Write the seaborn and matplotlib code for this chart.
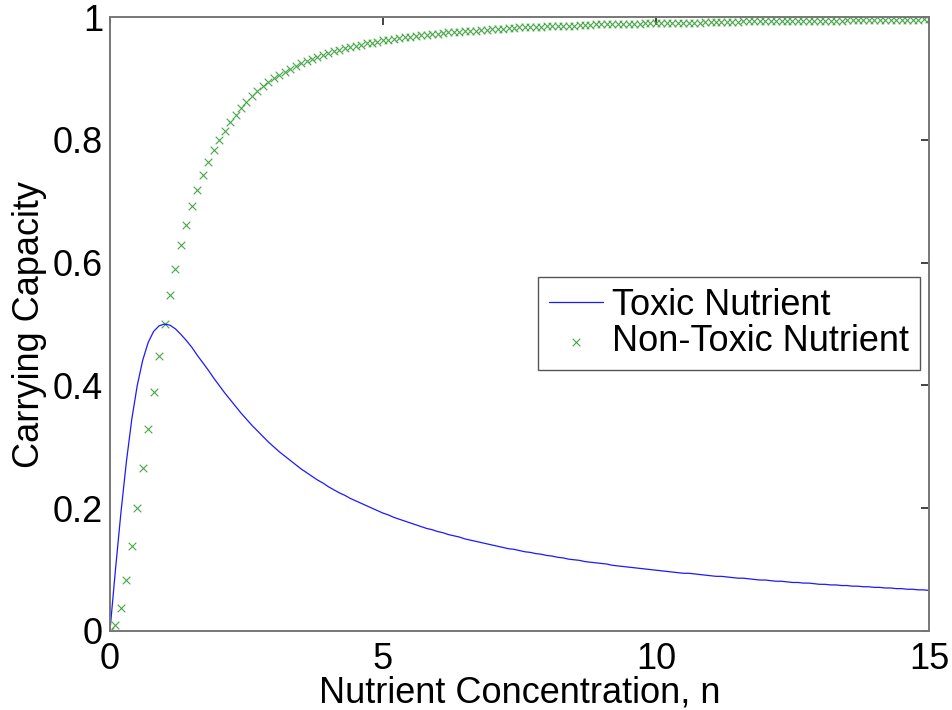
import matplotlib
matplotlib.use("Agg")
import matplotlib.pyplot as plt
import seaborn as sns
import pandas as pd

nutrient_conc = [
    0.0, 0.1, 0.2, 0.3, 0.4, 0.5, 0.6, 0.7, 0.8, 0.9,
    1.0, 1.1, 1.2, 1.3, 1.4, 1.5, 1.6, 1.7, 1.8, 1.9,
    2.0, 2.1, 2.2, 2.3, 2.4, 2.5, 2.6, 2.7, 2.8, 2.9,
    3.0, 3.1, 3.2, 3.3, 3.4, 3.5, 3.6, 3.7, 3.8, 3.9,
    4.0, 4.1, 4.2, 4.3, 4.4, 4.5, 4.6, 4.7, 4.8, 4.9,
    5.0, 5.1, 5.2, 5.3, 5.4, 5.5, 5.6, 5.7, 5.8, 5.9,
    6.0, 6.1, 6.2, 6.3, 6.4, 6.5, 6.6, 6.7, 6.8, 6.9,
    7.0, 7.1, 7.2, 7.3, 7.4, 7.5, 7.6, 7.7, 7.8, 7.9,
    8.0, 8.1, 8.2, 8.3, 8.4, 8.5, 8.6, 8.7, 8.8, 8.9,
    9.0, 9.1, 9.2, 9.3, 9.4, 9.5, 9.6, 9.7, 9.8, 9.9,
    10.0, 10.1, 10.2, 10.3, 10.4, 10.5, 10.6, 10.7, 10.8, 10.9,
    11.0, 11.1, 11.2, 11.3, 11.4, 11.5, 11.6, 11.7, 11.8, 11.9,
    12.0, 12.1, 12.2, 12.3, 12.4, 12.5, 12.6, 12.7, 12.8, 12.9,
    13.0, 13.1, 13.2, 13.3, 13.4, 13.5, 13.6, 13.7, 13.8, 13.9,
    14.0, 14.1, 14.2, 14.3, 14.4, 14.5, 14.6, 14.7, 14.8, 14.9,
    15.0,
]

toxic = [
    0.000, 0.099, 0.192, 0.275, 0.345, 0.400, 0.441, 0.470, 0.488, 0.497,
    0.500, 0.498, 0.492, 0.483, 0.473, 0.462, 0.449, 0.437, 0.425, 0.412,
    0.400, 0.388, 0.377, 0.366, 0.355, 0.345, 0.335, 0.326, 0.317, 0.308,
    0.300, 0.292, 0.285, 0.278, 0.271, 0.264, 0.258, 0.252, 0.246, 0.241,
    0.235, 0.230, 0.225, 0.221, 0.216, 0.212, 0.208, 0.204, 0.200, 0.196,
    0.192, 0.189, 0.185, 0.182, 0.179, 0.176, 0.173, 0.170, 0.167, 0.165,
    0.162, 0.160, 0.157, 0.155, 0.153, 0.150, 0.148, 0.146, 0.144, 0.142,
    0.140, 0.138, 0.136, 0.134, 0.133, 0.131, 0.129, 0.128, 0.126, 0.125,
    0.123, 0.122, 0.120, 0.119, 0.117, 0.116, 0.115, 0.113, 0.112, 0.111,
    0.110, 0.109, 0.107, 0.106, 0.105, 0.104, 0.103, 0.102, 0.101, 0.100,
    0.099, 0.098, 0.097, 0.096, 0.095, 0.094, 0.094, 0.093, 0.092, 0.091,
    0.090, 0.089, 0.089, 0.088, 0.087, 0.086, 0.086, 0.085, 0.084, 0.083,
    0.083, 0.082, 0.081, 0.081, 0.080, 0.079, 0.079, 0.078, 0.078, 0.077,
    0.076, 0.076, 0.075, 0.075, 0.074, 0.074, 0.073, 0.073, 0.072, 0.072,
    0.071, 0.071, 0.070, 0.070, 0.069, 0.069, 0.068, 0.068, 0.067, 0.067,
    0.066,
]

non_toxic = [
    0.000, 0.010, 0.038, 0.083, 0.138, 0.200, 0.265, 0.329, 0.390, 0.448,
    0.500, 0.548, 0.590, 0.628, 0.662, 0.692, 0.719, 0.743, 0.764, 0.783,
    0.800, 0.815, 0.829, 0.841, 0.852, 0.862, 0.871, 0.879, 0.887, 0.894,
    0.900, 0.906, 0.911, 0.916, 0.920, 0.925, 0.928, 0.932, 0.935, 0.938,
    0.941, 0.944, 0.946, 0.949, 0.951, 0.953, 0.955, 0.957, 0.958, 0.960,
    0.962, 0.963, 0.964, 0.966, 0.967, 0.968, 0.969, 0.970, 0.971, 0.972,
    0.973, 0.974, 0.975, 0.975, 0.976, 0.977, 0.978, 0.978, 0.979, 0.979,
    0.980, 0.981, 0.981, 0.982, 0.982, 0.983, 0.983, 0.983, 0.984, 0.984,
    0.985, 0.985, 0.985, 0.986, 0.986, 0.986, 0.987, 0.987, 0.987, 0.988,
    0.988, 0.988, 0.988, 0.989, 0.989, 0.989, 0.989, 0.989, 0.990, 0.990,
    0.990, 0.990, 0.990, 0.991, 0.991, 0.991, 0.991, 0.991, 0.991, 0.992,
    0.992, 0.992, 0.992, 0.992, 0.992, 0.992, 0.993, 0.993, 0.993, 0.993,
    0.993, 0.993, 0.993, 0.993, 0.994, 0.994, 0.994, 0.994, 0.994, 0.994,
    0.994, 0.994, 0.994, 0.994, 0.994, 0.995, 0.995, 0.995, 0.995, 0.995,
    0.995, 0.995, 0.995, 0.995, 0.995, 0.995, 0.995, 0.995, 0.995, 0.996,
    0.996,
]

x_ticks = [0, 5, 10, 15]
y_ticks = [0, 0.2, 0.4, 0.6, 0.8, 1.0]
y_tick_labels = ["0", "0.2", "0.4", "0.6", "0.8", "1"]

df = pd.DataFrame({"n": nutrient_conc, "toxic": toxic, "non_toxic": non_toxic})

sns.set_theme(style="white")
plt.rcParams["font.family"] = ["Liberation Sans", "DejaVu Sans"]
plt.rcParams["text.color"] = "black"
plt.rcParams["axes.labelcolor"] = "black"

FS = 26

fig = plt.figure(figsize=(9.52, 7.10), dpi=100)
ax = fig.add_axes([0.1155, 0.1113, 0.8603, 0.8647])

sns.lineplot(data=df, x="n", y="toxic", ax=ax, color="#1a1aff", linewidth=0.9,
             label="Toxic Nutrient", sort=False)
sns.scatterplot(data=df, x="n", y="non_toxic", ax=ax, marker="x", color="#45a845",
                s=30, linewidth=0.8, label="Non-Toxic Nutrient")

ax.set_xlim(0, 15)
ax.set_ylim(0, 1)
ax.set_xticks(x_ticks)
ax.set_yticks(y_ticks)
ax.set_yticklabels(y_tick_labels)

for sp in ax.spines.values():
    sp.set_color("#777777")
    sp.set_linewidth(1.4)

ax.tick_params(axis="both", direction="in", length=6, width=1.2, color="#222222",
               labelsize=FS, top=True, right=True, labelcolor="black")
ax.tick_params(axis="x", pad=8)
ax.tick_params(axis="y", pad=5)

ax.set_xlabel("Nutrient Concentration, n", fontsize=FS, labelpad=-1)
ax.set_ylabel("Carrying Capacity", fontsize=FS, labelpad=4)

leg = ax.legend(loc="upper right", bbox_to_anchor=(0.989, 0.577), fontsize=FS,
                frameon=True, fancybox=False, framealpha=1, edgecolor="#555555",
                handlelength=1.5, handletextpad=0.25, borderpad=0.3, labelspacing=0.05,
                borderaxespad=0)
leg.get_frame().set_linewidth(1.0)

fig.savefig("out.png", dpi=100)
